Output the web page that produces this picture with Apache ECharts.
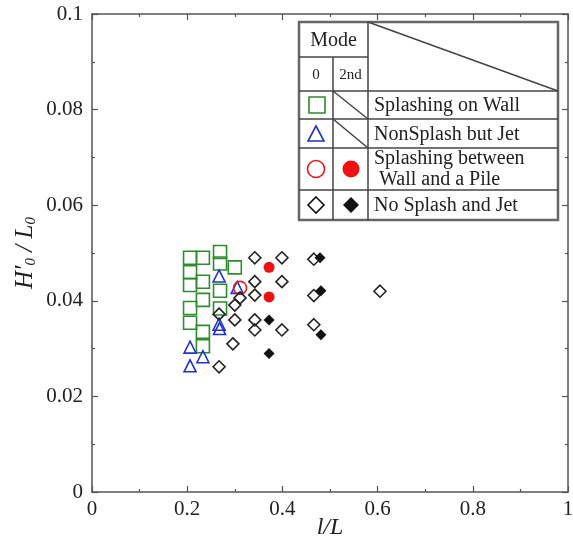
<!DOCTYPE html>
<html>
<head>
<meta charset="utf-8">
<script src="https://cdn.jsdelivr.net/npm/echarts@6/dist/echarts.min.js"></script>
<style>
  html, body { margin: 0; padding: 0; background: #fff; }
  #chart { width: 573px; height: 545px; }
</style>
</head>
<body>
<div id="chart"></div>
<script>
// [l/L, H'0/L0]
const splashWall = [
  [0.206, 0.049], [0.206, 0.046], [0.206, 0.0433], [0.206, 0.0385], [0.206, 0.0354],
  [0.233, 0.049], [0.233, 0.044], [0.233, 0.0402], [0.233, 0.0335], [0.233, 0.0305],
  [0.269, 0.0502], [0.269, 0.0478], [0.269, 0.0421], [0.269, 0.0384],
  [0.300, 0.047]
];
const nonSplashJet = [
  [0.267, 0.0452], [0.305, 0.0428], [0.267, 0.0351], [0.268, 0.0342],
  [0.206, 0.0303], [0.233, 0.0283], [0.206, 0.0264]
];
const splashPile0 = [[0.311, 0.0427]];
const splashPile2 = [[0.372, 0.047], [0.372, 0.0408]];
const noSplash0 = [
  [0.267, 0.0372], [0.267, 0.0262], [0.311, 0.0406], [0.300, 0.0391], [0.300, 0.036], [0.296, 0.031],
  [0.342, 0.049], [0.399, 0.049], [0.342, 0.044], [0.399, 0.044], [0.342, 0.0412],
  [0.342, 0.036], [0.342, 0.0339], [0.399, 0.0339],
  [0.466, 0.0487], [0.466, 0.0411], [0.466, 0.035], [0.605, 0.042]
];
const noSplash2 = [
  [0.479, 0.049], [0.481, 0.0421], [0.481, 0.0329], [0.372, 0.036], [0.372, 0.029]
];
const xTicks = [0, 0.2, 0.4, 0.6, 0.8, 1];
const yTicks = [0, 0.02, 0.04, 0.06, 0.08, 0.1];

const chart = echarts.init(document.getElementById('chart'));

const frameColor = '#555';
const serif = '"Liberation Serif", "DejaVu Serif", serif';

function baseAxis(pos, ticks, show) {
  return {
    type: 'value',
    position: pos,
    min: ticks[0],
    max: ticks[ticks.length - 1],
    interval: ticks[1] - ticks[0],
    axisLine: { show: true, onZero: false, lineStyle: { color: frameColor, width: 1.5 } },
    axisTick: { show: true, inside: true, length: 6, lineStyle: { color: frameColor, width: 1.2 } },
    minorTick: { show: true, splitNumber: 2, length: 3, lineStyle: { color: frameColor, width: 1.2 } },
    splitLine: { show: false },
    axisLabel: {
      show: show,
      color: '#222',
      fontFamily: serif,
      fontSize: 21,
      formatter: v => String(+v.toFixed(2))
    }
  };
}

const xMain = baseAxis('bottom', xTicks, true);
xMain.axisLabel.margin = 7;
xMain.name = 'l/L';
xMain.nameLocation = 'middle';
xMain.nameGap = 24;
xMain.nameMoveOverlap = false;
xMain.nameTextStyle = { fontFamily: serif, fontStyle: 'italic', fontSize: 24, color: '#222' };

const yMain = baseAxis('left', yTicks, true);
yMain.axisLabel.margin = 9;
yMain.name = '{a|H′}{s|0}{a| / L}{s|0}';
yMain.nameLocation = 'middle';
yMain.nameGap = 53;
yMain.nameMoveOverlap = false;
yMain.nameRotate = 90;
yMain.nameTextStyle = {
  rich: {
    a: { fontFamily: serif, fontStyle: 'italic', fontSize: 25, color: '#222' },
    s: { fontFamily: serif, fontStyle: 'italic', fontSize: 15, color: '#222', padding: [12, 0, 0, 0] }
  }
};

// legend table
const L = 299, R = 558, T = 22, B = 220;
const c1 = 333, c2 = 368;
const r1 = 57, r2 = 91, r3 = 119, r4 = 148, r5 = 190;
const lineStyle = { stroke: '#444', lineWidth: 1.5 };
function seg(x1, y1, x2, y2) {
  return { type: 'line', shape: { x1, y1, x2, y2 }, style: lineStyle, z: 101 };
}
function txt(x, y, text, size, align) {
  return {
    type: 'text', x, y, z: 102,
    style: { text, font: size + 'px ' + serif, fill: '#222', align: align || 'left', verticalAlign: 'middle' }
  };
}
const legendGraphic = [
  { type: 'rect', shape: { x: L, y: T, width: R - L, height: B - T }, style: { fill: '#fff', stroke: '#666', lineWidth: 2.5 }, z: 100 },
  seg(L, r1, c2, r1), seg(L, r2, R, r2), seg(L, r3, R, r3), seg(L, r4, R, r4), seg(L, r5, R, r5),
  seg(c1, r1, c1, B), seg(c2, T, c2, B),
  seg(c2, T, R, r2), seg(c1, r2, c2, r3), seg(c1, r3, c2, r4),
  txt((L + c2) / 2, (T + r1) / 2 + 1, 'Mode', 20, 'center'),
  txt((L + c1) / 2, (r1 + r2) / 2 + 1, '0', 15, 'center'),
  txt((c1 + c2) / 2, (r1 + r2) / 2 + 1, '2nd', 15, 'center'),
  txt(374, (r2 + r3) / 2 + 1, 'Splashing on Wall', 20),
  txt(374, (r3 + r4) / 2 + 1, 'NonSplash but Jet', 20),
  txt(374, 159, 'Splashing between', 20),
  txt(374, 180, ' Wall and a Pile', 20),
  txt(374, (r5 + B) / 2 + 1, 'No Splash and Jet', 20),
  { type: 'rect', shape: { x: 309, y: 97, width: 16, height: 16 }, style: { fill: 'none', stroke: '#2e8b2e', lineWidth: 1.6 }, z: 102 },
  { type: 'polygon', shape: { points: [[316, 126], [324, 141], [308, 141]] }, style: { fill: 'none', stroke: '#2233cc', lineWidth: 1.6 }, z: 102 },
  { type: 'circle', shape: { cx: 316, cy: 169, r: 8.5 }, style: { fill: 'none', stroke: '#e8191c', lineWidth: 1.6 }, z: 102 },
  { type: 'circle', shape: { cx: 351, cy: 169, r: 8.5 }, style: { fill: '#ee1111' }, z: 102 },
  { type: 'polygon', shape: { points: [[316, 197], [324, 205], [316, 213], [308, 205]] }, style: { fill: 'none', stroke: '#111', lineWidth: 1.6 }, z: 102 },
  { type: 'polygon', shape: { points: [[351, 197], [359, 205], [351, 213], [343, 205]] }, style: { fill: '#111' }, z: 102 }
];

function openSeries(name, data, symbol, size, color) {
  return {
    name, type: 'scatter', data, symbol, symbolSize: size,
    itemStyle: { color: 'rgba(0,0,0,0)', borderColor: color, borderWidth: 1.6, opacity: 1 },
    emphasis: { disabled: true }
  };
}
function filledSeries(name, data, symbol, size, color) {
  return {
    name, type: 'scatter', data, symbol, symbolSize: size,
    itemStyle: { color: color, opacity: 1 },
    emphasis: { disabled: true }
  };
}

const option = {
  backgroundColor: '#fff',
  animation: false,
  grid: { left: 92, right: 5, top: 14, bottom: 53, containLabel: false, outerBoundsMode: 'none' },
  xAxis: [xMain, baseAxis('top', xTicks, false)],
  yAxis: [yMain, baseAxis('right', yTicks, false)],
  graphic: legendGraphic,
  series: [
    openSeries('Splashing on Wall', splashWall, 'rect', 13, '#2e8b2e'),
    openSeries('NonSplash but Jet', nonSplashJet, 'triangle', 12, '#2233cc'),
    openSeries('Splashing between Wall and a Pile (0)', splashPile0, 'circle', 13, '#e8191c'),
    filledSeries('Splashing between Wall and a Pile (2nd)', splashPile2, 'circle', 11, '#ee1111'),
    openSeries('No Splash and Jet (0)', noSplash0, 'diamond', 12, '#222'),
    filledSeries('No Splash and Jet (2nd)', noSplash2, 'diamond', 11, '#111')
  ]
};

chart.setOption(option);
</script>
</body>
</html>
